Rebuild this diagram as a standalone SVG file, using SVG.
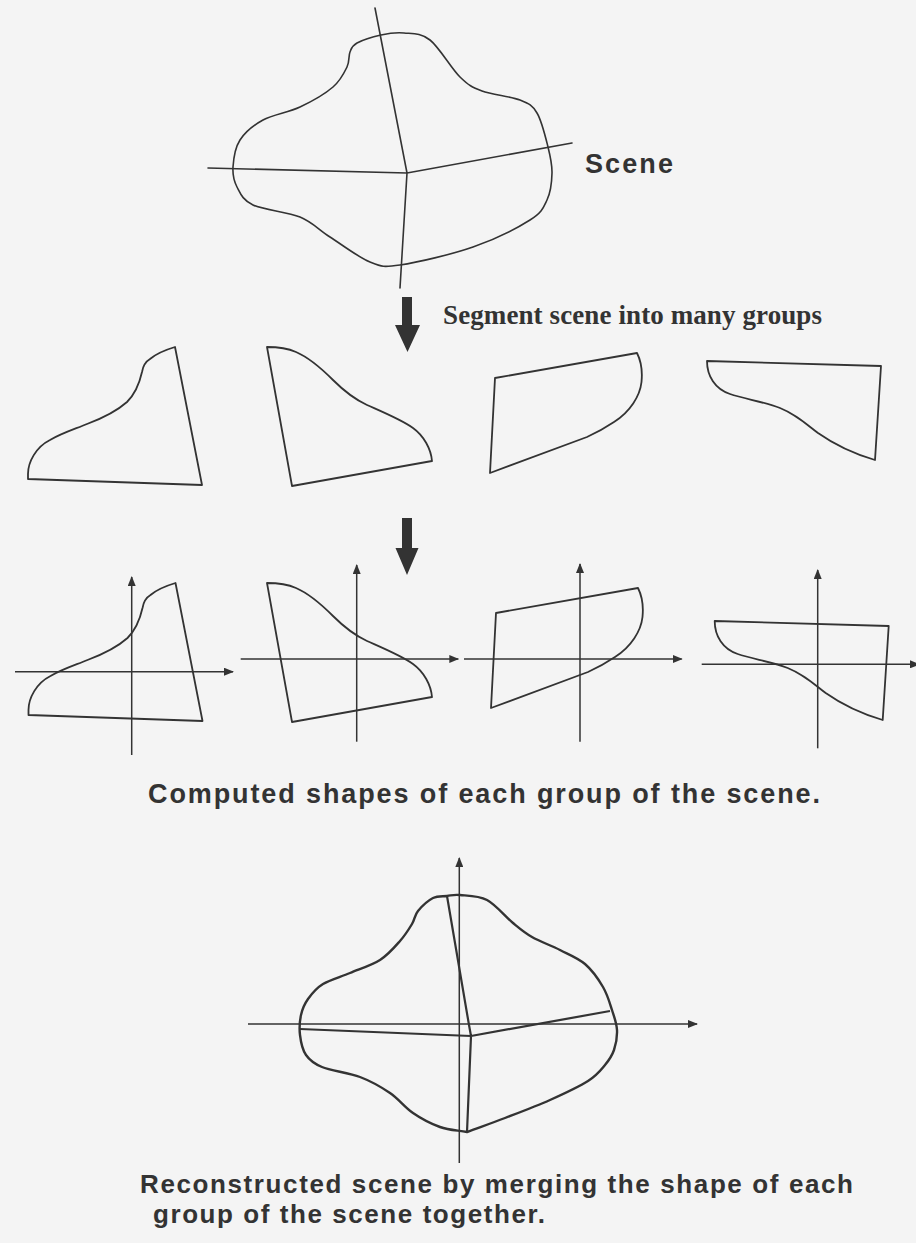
<svg xmlns="http://www.w3.org/2000/svg" xmlns:xlink="http://www.w3.org/1999/xlink" width="916" height="1243" viewBox="0 0 916 1243">
<style>
.ln{fill:none;stroke:#333;stroke-width:1.6;stroke-linejoin:round;stroke-linecap:round}
.sh{fill:none;stroke:#333;stroke-width:1.8;stroke-linejoin:round}
.ax{fill:none;stroke:#333;stroke-width:1.5;marker-end:url(#ah)}
.big{fill:#333}
.cap{font-family:"Liberation Sans",Arial,Helvetica,sans-serif;font-weight:bold;font-size:27px;fill:#333}
.cap2{font-family:"Liberation Sans",Arial,Helvetica,sans-serif;font-weight:bold;font-size:26px;fill:#333}
.ser{font-family:"Liberation Serif","Times New Roman",serif;font-weight:bold;font-size:27px;fill:#333}
</style>
<defs>
<marker id="ah" viewBox="0 0 10 8" refX="9" refY="4" markerWidth="10" markerHeight="8" markerUnits="userSpaceOnUse" orient="auto">
<path d="M0,0 L10,4 L0,8 Z" fill="#333"/>
</marker>
<path id="shA" d="M175,347 L202,485 L28,479 L28,474 C28,462 36,447 50,440 C62,433 75,429 87,424 C103,418 118,410 127,402 C135,394 140,381 142,372 C143,366 145,362 150,359 C157,353 165,350 175,347 Z"/>
<path id="shB" d="M267,347 L292,486 L432,461 C431,449 424,436 413,428 C402,420 385,413 367,405 C352,398 342,389 333,380 C322,369 310,358 296,352 C287,348 277,347 267,347 Z"/>
<path id="shC" d="M495,378 L637,353 C641,361 642.5,372 641.5,382 C640,396 630,412 614,422 C605,428 596,433 587,437 L490,473 Z"/>
<path id="shD" d="M707,361 L881,366 L875,460 C858,455 835,445 818,433 C805,423 795,414 780,408 C765,402 745,399 730,394 C715,389 707,376 707,361 Z"/>
</defs>
<rect x="0" y="0" width="916" height="1243" fill="#f4f4f4"/>

<g id="scene">
<path class="ln" d="M381,35 C388.8,33.3 395.8,32.2 404,33 C412.2,33.8 420.7,32.7 430,40 C439.3,47.3 451.3,68.5 460,77 C468.7,85.5 472,87.2 482,91 C492,94.8 510.8,96.3 520,100 C529.2,103.7 532.3,105.2 537,113 C541.7,120.8 545.5,137 548,147 C550.5,157 552.2,164.2 552,173 C551.8,181.8 550.7,192.2 547,200 C543.3,207.8 542.3,212.2 530,220 C517.7,227.8 494.7,239.5 473,247 C451.3,254.5 417.2,262.5 400,265 C382.8,267.5 381.7,266.7 370,262 C358.3,257.3 341.7,244.5 330,237 C318.3,229.5 312.8,222.3 300,217 C287.2,211.7 263.5,210 253,205 C242.5,200 240.3,193.3 237,187 C233.7,180.7 232.5,174.8 233,167 C233.5,159.2 235,147.8 240,140 C245,132.2 253,125.5 263,120 C273,114.5 288.3,112.5 300,107 C311.7,101.5 325.2,93.7 333,87 C340.8,80.3 344.2,72.8 347,67 C349.8,61.2 348.3,56 350,52 C351.7,48 351.8,45.8 357,43 C362.2,40.2 373.2,36.7 381,35 Z"/>
<path class="ln" d="M375,8 L407,173 M208,168 L407,173 L572,143 M407,173 L400,288"/>
<text class="cap" x="585" y="172.5" textLength="88" lengthAdjust="spacing">Scene</text>
</g>

<g id="arrow1">
<path class="big" d="M402,297 L412,297 L412,325 L420,325 L407.5,352 L395,325 L402,325 Z"/>
<text class="ser" x="443" y="323.5" textLength="379" lengthAdjust="spacing">Segment scene into many groups</text>
</g>

<g id="segments">
<use xlink:href="#shA" href="#shA" class="sh"/>
<use xlink:href="#shB" href="#shB" class="sh"/>
<use xlink:href="#shC" href="#shC" class="sh"/>
<use xlink:href="#shD" href="#shD" class="sh"/>
</g>

<g id="arrow2">
<path class="big" d="M402,518 L412,518 L412,548 L418.5,548 L407,575 L395.5,548 L402,548 Z"/>
</g>

<g id="plot1">
<line class="ax" x1="131.7" y1="755" x2="131.7" y2="577"/>
<line class="ax" x1="15" y1="671.7" x2="233" y2="671.7"/>
<use xlink:href="#shA" href="#shA" class="sh" transform="translate(0.5,236)"/>
</g>
<g id="plot2">
<line class="ax" x1="356.7" y1="741.7" x2="356.7" y2="565"/>
<line class="ax" x1="240.7" y1="659" x2="458.3" y2="659"/>
<use xlink:href="#shB" href="#shB" class="sh" transform="translate(0,236)"/>
</g>
<g id="plot3">
<line class="ax" x1="580" y1="741.7" x2="580" y2="564"/>
<line class="ax" x1="464" y1="659" x2="681.7" y2="659"/>
<use xlink:href="#shC" href="#shC" class="sh" transform="translate(1,235)"/>
</g>
<g id="plot4">
<line class="ax" x1="817.7" y1="748.3" x2="817.7" y2="570"/>
<line class="ax" x1="701.7" y1="664.3" x2="919" y2="664.3"/>
<use xlink:href="#shD" href="#shD" class="sh" transform="translate(7.7,260)"/>
</g>

<g id="caption1">
<text class="cap" x="148" y="803" textLength="672" lengthAdjust="spacing">Computed shapes of each group of the scene.</text>
</g>

<g id="merged">
<line class="ax" x1="459.3" y1="1163" x2="459.3" y2="858"/>
<line class="ax" x1="248" y1="1024" x2="697" y2="1024"/>
<path class="sh" style="stroke-width:2.4" d="M447,896 C451.5,895.5 453.3,894.3 460,895 C466.7,895.7 478.2,895.3 487,900 C495.8,904.7 505.5,916.8 513,923 C520.5,929.2 524.2,932.5 532,937 C539.8,941.5 551.2,945.5 560,950 C568.8,954.5 577.8,957.8 585,964 C592.2,970.2 598.5,979.3 603,987 C607.5,994.7 609.7,1002.8 612,1010 C614.3,1017.2 616.7,1023.3 617,1030 C617.3,1036.7 616,1044.2 614,1050 C612,1055.8 609.3,1059.8 605,1065 C600.7,1070.2 597.2,1075.2 588,1081 C578.8,1086.8 563.8,1093.8 550,1100 C536.2,1106.2 518.8,1112.7 505,1118 C491.2,1123.3 479.7,1127.3 467,1132 C458,1130.3 449,1130.2 440,1127 C431,1123.8 421.3,1118.7 413,1113 C404.7,1107.3 398.8,1099 390,1093 C381.2,1087 371.3,1081.3 360,1077 C348.7,1072.7 331,1070.7 322,1067 C313,1063.3 309.7,1060.3 306,1055 C302.3,1049.7 300.8,1041.7 300,1035 C299.2,1028.3 299.7,1021 301,1015 C302.3,1009 304.3,1004.2 308,999 C311.7,993.8 316,988.3 323,984 C330,979.7 340.5,977 350,973 C359.5,969 371.7,965.3 380,960 C388.3,954.7 394.7,947 400,941 C405.3,935 409,929 412,924 C415,919 414.5,915.3 418,911 C421.5,906.7 428.2,900.5 433,898 C437.8,895.5 442.5,896.5 447,896 Z"/>
<path class="sh" style="stroke-width:2.2" d="M447,896 L469,1025 L471,1036 M300,1029 L471,1036 L610,1011 M471,1036 L467,1132"/>
</g>

<g id="caption2">
<text class="cap2" x="140" y="1193" textLength="713" lengthAdjust="spacing">Reconstructed scene by merging the shape of each</text>
<text class="cap2" x="153" y="1223" textLength="392" lengthAdjust="spacing">group of the scene together.</text>
</g>
</svg>
